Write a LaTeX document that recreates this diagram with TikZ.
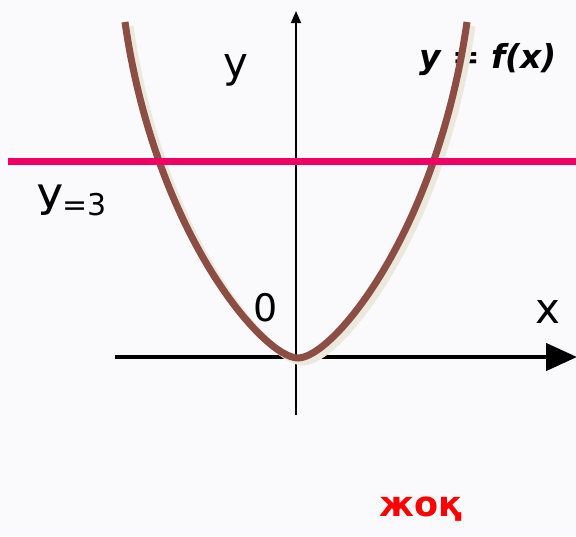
\documentclass[tikz,border=0pt]{standalone}
\usepackage{fontspec}
\setmainfont{DejaVu Sans}
\usetikzlibrary{arrows.meta}
\definecolor{bg}{RGB}{250,250,253}
\definecolor{curvebrown}{RGB}{140,78,68}
\definecolor{shadowbeige}{RGB}{236,233,220}
\definecolor{linepink}{RGB}{240,0,100}
\definecolor{wordred}{RGB}{255,0,0}
\tikzset{
  lbl/.style={inner sep=0pt, text=black},
}
\newcommand{\parabolapath}{(125,22) .. controls (155,232) and (263,358) .. (298,358) .. controls (333,358) and (437,232) .. (467,22)}
\begin{document}
\begin{tikzpicture}[x=1pt,y=-1pt]
\fill[bg] (0,0) rectangle (576,536);
\useasboundingbox (0,0) rectangle (576,536);
% function label (under the curve)
\node[lbl, font=\bfseries\itshape\fontsize{33}{33}\selectfont, anchor=base] (fx) at (488,68) {y = f(x)};
% axes
\coordinate (xs) at (115,357);
\coordinate (xe) at (577,357);
\coordinate (ys) at (296,415);
\coordinate (ye) at (296,11);
\draw[line width=4.5pt, -{Triangle[length=31pt,width=27pt]}] (xs) -- (xe);
\draw[line width=1.8pt, -{Triangle[length=12pt,width=10pt]}] (ys) -- (ye);
% parabola shadow
\draw[shadowbeige, line width=7pt, shift={(5pt,-4pt)}] \parabolapath;
% parabola
\draw[curvebrown, line width=7pt] \parabolapath;
% y=3 line
\coordinate (ls) at (8,161);
\coordinate (le) at (576,161);
\draw[linepink, line width=7pt] (ls) -- (le);
% labels
\node[lbl, font=\fontsize{42}{42}\selectfont] (ylab) at (236,70) {y};
\node[lbl, font=\fontsize{38}{38}\selectfont] (zero) at (266,308) {0};
\node[lbl, font=\fontsize{42}{42}\selectfont] (xlab) at (548,312) {x};
\node[lbl, anchor=base west] (y3) at (37,215) {\fontsize{42}{42}\selectfont У\fontsize{30}{30}\selectfont =3};
\node[lbl, text=wordred, font=\bfseries\fontsize{35}{35}\selectfont, anchor=base] (no) at (421,516) {жоқ};
\end{tikzpicture}
\end{document}
